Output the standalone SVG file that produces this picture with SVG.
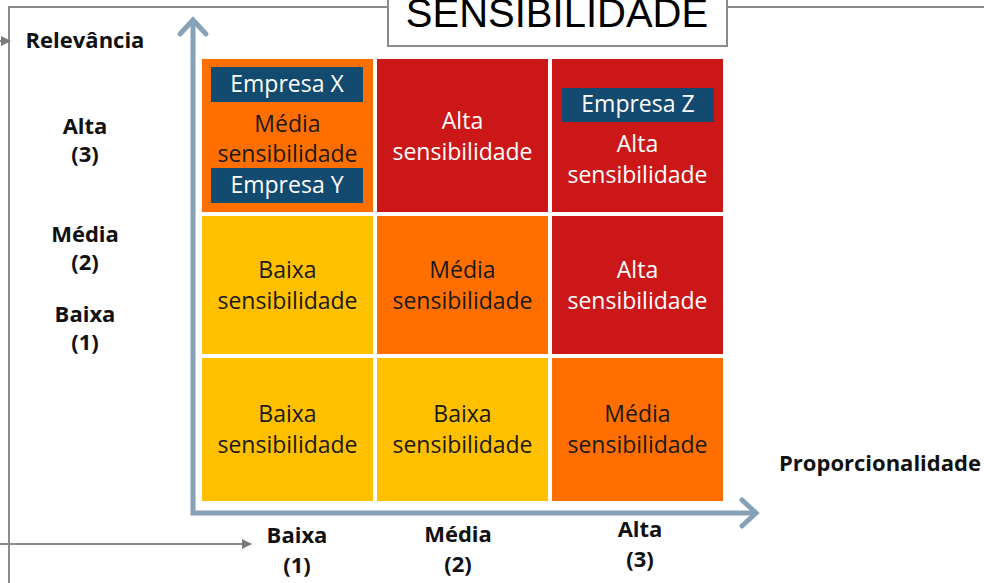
<svg xmlns="http://www.w3.org/2000/svg" width="984" height="583" viewBox="0 0 984 583">
<style>
.frame{fill:none;stroke:#8c8c8c;stroke-width:2}
.axis{fill:none;stroke:#87a2b7;stroke-width:5;stroke-linecap:round;stroke-linejoin:miter}
.o{fill:#ff6f00}.r{fill:#cc1719}.y{fill:#ffc000}
.t{font-family:"Open Sans","Noto Sans",sans-serif;font-size:23px;text-anchor:middle}
.dk{fill:#1a1a1a}.wh{fill:#ffffff}
.emp{fill:#134a6f}
.lbl{font-family:"Open Sans","Noto Sans",sans-serif;font-weight:bold;font-size:22px;fill:#111;text-anchor:middle}
.title{font-family:"Liberation Sans",Arial,sans-serif;font-size:40px;fill:#000;text-anchor:middle}
</style>
<defs>
<marker id="ah" markerWidth="10" markerHeight="10" refX="9" refY="5" orient="auto" markerUnits="userSpaceOnUse">
<path d="M0,0 L10,5 L0,10 Z" fill="#7a7a7a"/>
</marker>
</defs>
<rect width="984" height="583" fill="#ffffff"/>
<g id="frame">
<path class="frame" d="M9,583 V7 H388 M727,7 H984"/>
</g>
<g id="connectors">
<line x1="0" y1="41" x2="10" y2="41" stroke="#8c8c8c" stroke-width="2" marker-end="url(#ah)"/>
<line x1="0" y1="544" x2="251" y2="544" stroke="#8c8c8c" stroke-width="2" marker-end="url(#ah)"/>
<path class="axis" d="M193,20 V513 H755"/>
<path class="axis" d="M180,34 L193,20 L206,34"/>
<path class="axis" d="M742,500 L756,513 L742,526"/>
</g>
<g id="title">
<rect x="388" y="-10" width="339" height="56" fill="#ffffff" stroke="#8c8c8c" stroke-width="2"/>
<text class="title" x="557" y="27">SENSIBILIDADE</text>
</g>
<g id="cell-1-1">
<rect class="o" x="202" y="59" width="171" height="153"/>
<text class="t dk" x="287.5" y="132">Média</text>
<text class="t dk" x="287.5" y="162">sensibilidade</text>
</g>
<g id="empresa-x">
<rect class="emp" x="211" y="67" width="152" height="35"/>
<text class="t wh" x="287" y="92">Empresa X</text>
</g>
<g id="empresa-y">
<rect class="emp" x="211" y="168" width="152" height="35"/>
<text class="t wh" x="287" y="193">Empresa Y</text>
</g>
<g id="cell-1-2">
<rect class="r" x="377" y="59" width="171" height="153"/>
<text class="t wh" x="462.5" y="129">Alta</text>
<text class="t wh" x="462.5" y="160">sensibilidade</text>
</g>
<g id="cell-1-3">
<rect class="r" x="552" y="59" width="171" height="153"/>
<text class="t wh" x="637.5" y="152">Alta</text>
<text class="t wh" x="637.5" y="183">sensibilidade</text>
</g>
<g id="empresa-z">
<rect class="emp" x="562" y="88" width="152" height="34"/>
<text class="t wh" x="638" y="112">Empresa Z</text>
</g>
<g id="cell-2-1">
<rect class="y" x="202" y="216" width="171" height="138"/>
<text class="t dk" x="287.5" y="278">Baixa</text>
<text class="t dk" x="287.5" y="309">sensibilidade</text>
</g>
<g id="cell-2-2">
<rect class="o" x="377" y="216" width="171" height="138"/>
<text class="t dk" x="462.5" y="278">Média</text>
<text class="t dk" x="462.5" y="309">sensibilidade</text>
</g>
<g id="cell-2-3">
<rect class="r" x="552" y="216" width="171" height="138"/>
<text class="t wh" x="637.5" y="278">Alta</text>
<text class="t wh" x="637.5" y="309">sensibilidade</text>
</g>
<g id="cell-3-1">
<rect class="y" x="202" y="358" width="171" height="143"/>
<text class="t dk" x="287.5" y="422">Baixa</text>
<text class="t dk" x="287.5" y="453">sensibilidade</text>
</g>
<g id="cell-3-2">
<rect class="y" x="377" y="358" width="171" height="143"/>
<text class="t dk" x="462.5" y="422">Baixa</text>
<text class="t dk" x="462.5" y="453">sensibilidade</text>
</g>
<g id="cell-3-3">
<rect class="o" x="552" y="358" width="171" height="143"/>
<text class="t dk" x="637.5" y="422">Média</text>
<text class="t dk" x="637.5" y="453">sensibilidade</text>
</g>
<g id="y-labels">
<text class="lbl" x="85" y="48">Relevância</text>
<text class="lbl" x="85" y="134">Alta</text>
<text class="lbl" x="85" y="162">(3)</text>
<text class="lbl" x="85" y="242">Média</text>
<text class="lbl" x="85" y="270">(2)</text>
<text class="lbl" x="85" y="322">Baixa</text>
<text class="lbl" x="85" y="350">(1)</text>
</g>
<g id="x-labels">
<text class="lbl" x="297" y="543">Baixa</text>
<text class="lbl" x="297" y="573">(1)</text>
<text class="lbl" x="458" y="542">Média</text>
<text class="lbl" x="458" y="572">(2)</text>
<text class="lbl" x="640" y="537">Alta</text>
<text class="lbl" x="640" y="567">(3)</text>
<text class="lbl" x="880" y="471">Proporcionalidade</text>
</g>
</svg>
